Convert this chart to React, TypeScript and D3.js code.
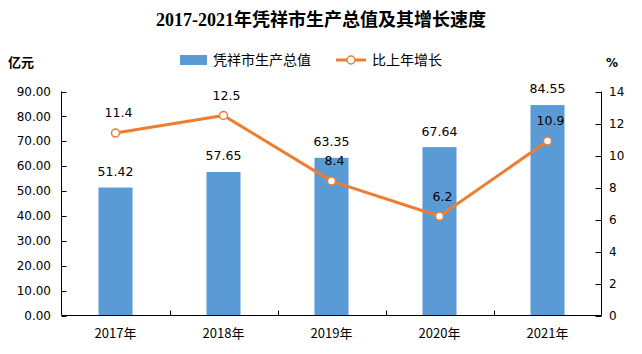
import { useEffect, useRef } from "react"
import * as d3 from "d3"

const years = ["2017年", "2018年", "2019年", "2020年", "2021年"]
const gdp = [51.42, 57.65, 63.35, 67.64, 84.55]
const growth = [11.4, 12.5, 8.4, 6.2, 10.9]
const leftTicks = [0, 10, 20, 30, 40, 50, 60, 70, 80, 90]
const rightTicks = [0, 2, 4, 6, 8, 10, 12, 14]

export default function App() {
  const svgRef = useRef<SVGSVGElement>(null)

  useEffect(() => {
    if (!svgRef.current) return
    const svg = d3.select(svgRef.current)
    svg.selectAll("*").remove()

    const width = 642
    const height = 354
    const left = 61.5
    const right = 601.5
    const top = 91.5
    const bottom = 315.5
    const numFont = "DejaVu Sans, sans-serif"
    const cjkFont = "'Noto Sans CJK SC', sans-serif"

    const x = d3.scaleBand().domain(years).range([left, right]).padding(0)
    const yL = d3.scaleLinear().domain([0, 90]).range([bottom, top])
    const yR = d3.scaleLinear().domain([0, 14]).range([bottom, top])
    const barW = x.bandwidth() * 0.315
    const cx = (d: string) => (x(d) as number) + x.bandwidth() / 2

    svg.append("rect").attr("width", width).attr("height", height).attr("fill", "#fff")

    // 标题
    svg.append("text")
      .attr("x", 321).attr("y", 26)
      .attr("text-anchor", "middle")
      .attr("font-family", "'Liberation Serif', 'Noto Sans CJK SC', serif")
      .attr("font-weight", "bold")
      .attr("font-size", "18px")
      .text("2017-2021年凭祥市生产总值及其增长速度")

    // 柱
    svg.append("g").selectAll("rect")
      .data(gdp)
      .join("rect")
      .attr("x", (_, i) => cx(years[i]) - barW / 2)
      .attr("y", (d) => yL(d))
      .attr("width", barW)
      .attr("height", (d) => bottom - yL(d))
      .attr("fill", "#5B9BD5")

    // 左轴
    const axL = svg.append("g")
    axL.append("line").attr("x1", left).attr("x2", left).attr("y1", top).attr("y2", bottom).attr("stroke", "#000")
    leftTicks.forEach((t) => {
      axL.append("line").attr("x1", left).attr("x2", left + 5).attr("y1", Math.round(yL(t)) + 0.5).attr("y2", Math.round(yL(t)) + 0.5).attr("stroke", "#000")
      axL.append("text")
        .attr("x", 51).attr("y", yL(t))
        .attr("dy", "0.35em")
        .attr("text-anchor", "end")
        .attr("font-family", numFont)
        .attr("font-size", "12px")
        .attr("fill", "#000")
        .text(t.toFixed(2))
    })

    // 右轴
    const axR = svg.append("g")
    axR.append("line").attr("x1", right).attr("x2", right).attr("y1", top).attr("y2", bottom).attr("stroke", "#000")
    rightTicks.forEach((t) => {
      axR.append("line").attr("x1", right - 6).attr("x2", right).attr("y1", Math.round(yR(t)) + 0.5).attr("y2", Math.round(yR(t)) + 0.5).attr("stroke", "#000")
      axR.append("text")
        .attr("x", 609).attr("y", yR(t))
        .attr("dy", "0.35em")
        .attr("font-family", numFont)
        .attr("font-size", "12px")
        .attr("fill", "#000")
        .text(t)
    })

    // 底轴
    const axB = svg.append("g")
    axB.append("line").attr("x1", left).attr("x2", right).attr("y1", bottom).attr("y2", bottom).attr("stroke", "#000")
    years.slice(1).forEach((yr) => {
      const px = Math.round(x(yr) as number) + 0.5
      axB.append("line").attr("x1", px).attr("x2", px).attr("y1", bottom - 5).attr("y2", bottom).attr("stroke", "#000")
    })
    years.forEach((yr) => {
      axB.append("text")
        .attr("x", cx(yr)).attr("y", 338)
        .attr("text-anchor", "middle")
        .attr("font-family", cjkFont)
        .attr("font-size", "13px")
        .text(yr)
    })

    // 柱标签
    svg.append("g").selectAll("text")
      .data(gdp)
      .join("text")
      .attr("x", (_, i) => cx(years[i]))
      .attr("y", (d) => yL(d) - 16)
      .attr("dy", "0.35em")
      .attr("text-anchor", "middle")
      .attr("font-family", numFont)
      .attr("font-size", "12.5px")
      .text((d) => d.toFixed(2))

    // 折线
    const line = d3.line<number>()
      .x((_, i) => cx(years[i]))
      .y((d) => yR(d))
    svg.append("path")
      .datum(growth)
      .attr("fill", "none")
      .attr("stroke", "#ED7D31")
      .attr("stroke-width", 3)
      .attr("stroke-linejoin", "round")
      .attr("d", line)

    svg.append("g").selectAll("circle")
      .data(growth)
      .join("circle")
      .attr("cx", (_, i) => cx(years[i]))
      .attr("cy", (d) => yR(d))
      .attr("r", 4)
      .attr("fill", "#fff")
      .attr("stroke", "#ED7D31")
      .attr("stroke-width", 1.5)

    svg.append("g").selectAll("text")
      .data(growth)
      .join("text")
      .attr("x", (_, i) => cx(years[i]) + 3)
      .attr("y", (d) => yR(d) - 20)
      .attr("dy", "0.35em")
      .attr("text-anchor", "middle")
      .attr("font-family", numFont)
      .attr("font-size", "12.5px")
      .text((d) => d.toFixed(1))

    // 单位
    svg.append("text").attr("x", 8).attr("y", 67)
      .attr("font-family", cjkFont).attr("font-weight", "bold").attr("font-size", "13px").text("亿元")
    svg.append("text").attr("x", 606).attr("y", 67)
      .attr("font-family", numFont).attr("font-weight", "bold").attr("font-size", "12px").text("%")

    // 图例
    const lg = svg.append("g")
    lg.append("rect").attr("x", 180).attr("y", 55).attr("width", 27).attr("height", 10).attr("fill", "#5B9BD5")
    lg.append("text").attr("x", 213).attr("y", 60).attr("dy", "0.35em")
      .attr("font-family", cjkFont).attr("font-size", "14px").text("凭祥市生产总值")
    lg.append("line").attr("x1", 336).attr("x2", 366).attr("y1", 60).attr("y2", 60)
      .attr("stroke", "#ED7D31").attr("stroke-width", 3)
    lg.append("circle").attr("cx", 351).attr("cy", 60).attr("r", 4)
      .attr("fill", "#fff").attr("stroke", "#ED7D31").attr("stroke-width", 1.5)
    lg.append("text").attr("x", 372).attr("y", 60).attr("dy", "0.35em")
      .attr("font-family", cjkFont).attr("font-size", "14px").text("比上年增长")

    svg.attr("width", width).attr("height", height).attr("viewBox", [0, 0, width, height])
  }, [])

  return (
    <div style={{ position: "absolute", left: 0, top: 0 }}>
      <svg ref={svgRef} style={{ display: "block" }}></svg>
    </div>
  )
}
